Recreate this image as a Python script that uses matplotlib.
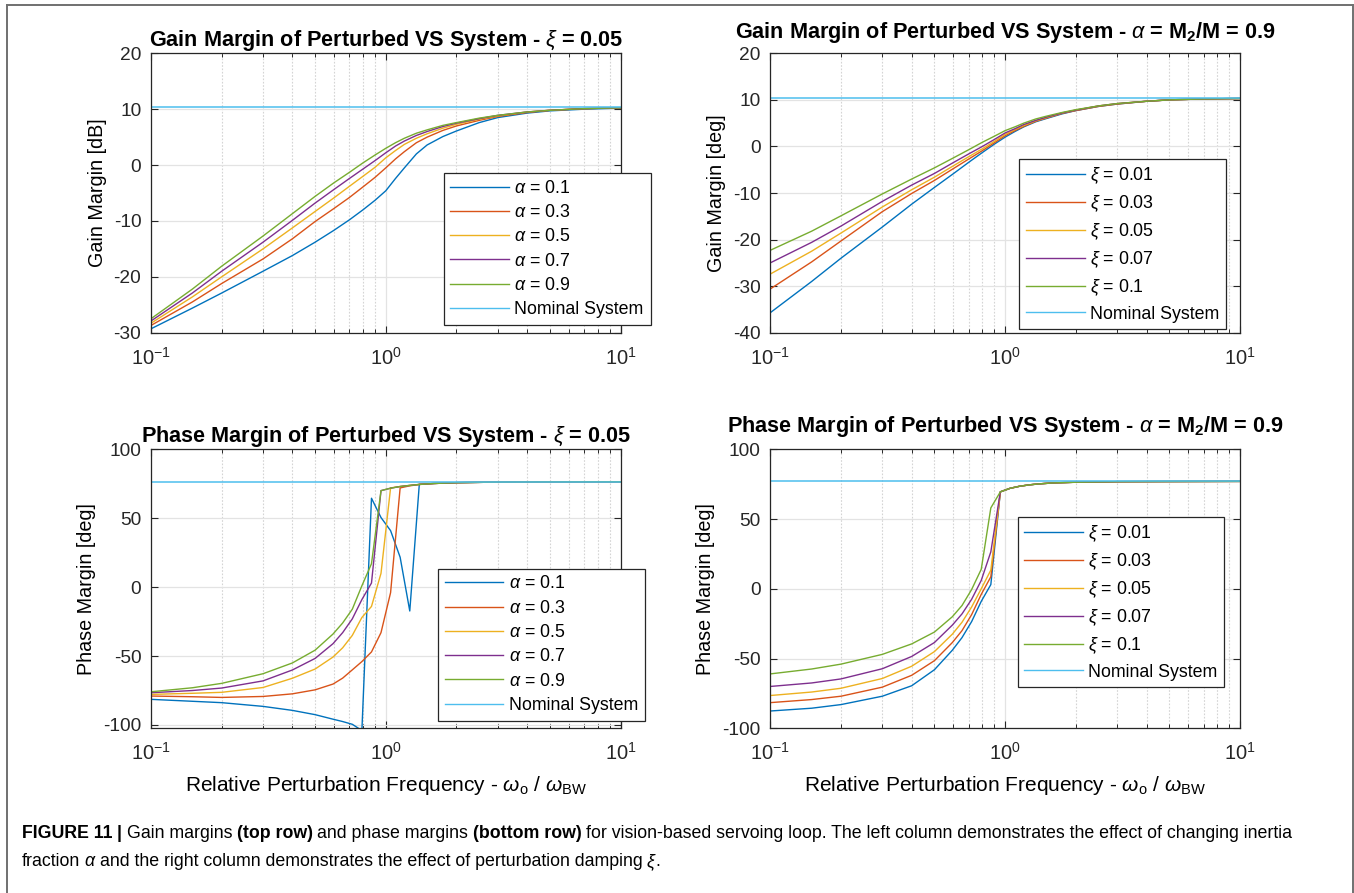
import matplotlib
matplotlib.use("Agg")
import matplotlib.pyplot as plt
from matplotlib.lines import Line2D

W, H = 1354, 893

# --- data ------------------------------------------------------------------
GM_FREQ = [0.1, 0.15, 0.2, 0.3, 0.4, 0.5, 0.6, 0.7, 0.8, 0.9, 1.0, 1.1, 1.2,
           1.35, 1.5, 1.75, 2, 2.5, 3, 4, 5, 7, 10]

# gain margin, xi = 0.05, varying alpha
GM_ALPHA_01 = [-29.3, -25.6, -22.9, -19.0, -16.2, -13.8, -11.7, -9.8, -8.0, -6.3, -4.6, -2.4, -0.5,
               2.0, 3.6, 5.1, 6.1, 7.6, 8.5, 9.3, 9.7, 10.0, 10.2]
GM_ALPHA_03 = [-28.7, -24.5, -21.2, -16.8, -13.2, -10.1, -7.8, -5.8, -3.9, -2.2, -0.5, 1.1, 2.4,
               4.0, 5.0, 6.2, 7.0, 8.0, 8.7, 9.4, 9.8, 10.1, 10.25]
GM_ALPHA_05 = [-28.3, -23.6, -20.0, -15.0, -11.25, -8.3, -5.9, -3.8, -2.0, -0.4, 1.3, 2.6, 3.7,
               4.8, 5.6, 6.6, 7.3, 8.2, 8.8, 9.5, 9.8, 10.1, 10.25]
GM_ALPHA_07 = [-27.9, -22.9, -19.0, -13.8, -9.9, -6.8, -4.4, -2.4, -0.7, 0.8, 2.2, 3.4, 4.3,
               5.3, 6.0, 6.9, 7.5, 8.3, 8.9, 9.5, 9.8, 10.1, 10.25]
GM_ALPHA_09 = [-27.5, -22.2, -18.1, -12.7, -8.7, -5.6, -3.2, -1.3, 0.4, 1.8, 3.0, 4.0, 4.8,
               5.7, 6.3, 7.1, 7.6, 8.4, 8.9, 9.5, 9.8, 10.1, 10.25]

# gain margin, alpha = 0.9, varying xi
GM_XI_001 = [-35.7, -29.0, -24.0, -17.3, -12.4, -8.8, -5.9, -3.4, -1.3, 0.5, 2.0, 3.2, 4.2,
             5.3, 6.0, 7.0, 7.7, 8.6, 9.1, 9.7, 10.0, 10.2, 10.3]
GM_XI_003 = [-30.6, -24.8, -20.3, -14.0, -10.1, -7.3, -4.8, -2.7, -0.9, 0.8, 2.3, 3.4, 4.3,
             5.4, 6.1, 7.1, 7.7, 8.6, 9.1, 9.7, 10.0, 10.2, 10.3]
GM_XI_005 = [-27.4, -22.5, -18.6, -13.0, -9.3, -6.6, -4.2, -2.2, -0.5, 1.1, 2.6, 3.6, 4.5,
             5.5, 6.2, 7.2, 7.8, 8.7, 9.2, 9.7, 10.0, 10.2, 10.3]
GM_XI_007 = [-25.0, -20.6, -17.1, -11.8, -8.3, -5.8, -3.5, -1.6, 0.0, 1.5, 2.9, 3.8, 4.7,
             5.6, 6.3, 7.2, 7.8, 8.7, 9.2, 9.7, 10.0, 10.2, 10.3]
GM_XI_010 = [-22.3, -18.2, -14.9, -10.2, -7.0, -4.6, -2.5, -0.7, 0.9, 2.2, 3.4, 4.2, 5.0,
             5.9, 6.5, 7.3, 7.9, 8.7, 9.2, 9.7, 10.0, 10.2, 10.3]

GM_NOMINAL = 10.4

PM_FREQ = [0.1, 0.15, 0.2, 0.3, 0.4, 0.5, 0.596, 0.655, 0.720, 0.791, 0.869, 0.954,
           1.048, 1.151, 1.265, 1.389, 1.6, 2, 3, 5, 10]

# phase margin, xi = 0.05, varying alpha
PM_ALPHA_01 = [-81.4, -82.8, -83.8, -86.5, -89.4, -92.5, -95.8, -97.5, -99.5, -104.0, 64.5, 50.5,
               41.0, 21.7, -17.3, 74.6, 75.2, 75.8, 76.2, 76.4, 76.5]
PM_ALPHA_03 = [-79.0, -79.5, -80.0, -79.3, -77.4, -74.5, -70.3, -66.0, -60.0, -54.0, -47.0, -33.0,
               -4.0, 72.0, 73.5, 74.5, 75.2, 75.8, 76.2, 76.4, 76.5]
PM_ALPHA_05 = [-77.8, -77.0, -76.3, -72.8, -66.1, -59.4, -50.7, -44.0, -35.0, -22.0, -14.0, 10.0,
               72.0, 73.0, 73.8, 74.5, 75.2, 75.8, 76.2, 76.4, 76.5]
PM_ALPHA_07 = [-76.6, -75.0, -73.2, -68.0, -60.1, -51.7, -41.0, -33.0, -23.0, -9.0, 3.0, 70.0,
               71.8, 73.0, 73.8, 74.5, 75.2, 75.8, 76.2, 76.4, 76.5]
PM_ALPHA_09 = [-75.9, -73.0, -69.8, -62.8, -55.0, -45.7, -34.0, -26.0, -16.0, 1.0, 17.0, 70.0,
               71.8, 73.0, 73.8, 74.5, 75.2, 75.8, 76.2, 76.4, 76.5]

# phase margin, alpha = 0.9, varying xi
PM_XI_001 = [-87.6, -85.6, -83.0, -77.0, -69.5, -58.0, -44.0, -35.0, -23.5, -9.0, 3.0, 69.5,
             72.0, 73.5, 74.5, 75.2, 75.9, 76.4, 76.8, 76.9, 77.0]
PM_XI_003 = [-81.6, -79.4, -77.0, -70.5, -62.0, -51.5, -38.5, -30.0, -18.5, -4.0, 8.6, 69.5,
             72.0, 73.5, 74.5, 75.2, 75.9, 76.4, 76.8, 76.9, 77.0]
PM_XI_005 = [-76.5, -74.0, -71.3, -64.3, -55.5, -45.0, -32.5, -24.0, -13.0, 0.0, 13.4, 69.5,
             72.0, 73.5, 74.5, 75.2, 75.9, 76.4, 76.8, 76.9, 77.0]
PM_XI_007 = [-70.0, -67.5, -64.6, -57.3, -48.5, -38.5, -26.0, -18.0, -7.5, 6.0, 26.5, 69.5,
             72.0, 73.5, 74.5, 75.2, 75.9, 76.4, 76.8, 76.9, 77.0]
PM_XI_010 = [-61.0, -57.5, -54.0, -47.0, -39.5, -31.0, -20.0, -12.0, -0.5, 14.0, 58.0, 69.5,
             72.0, 73.5, 74.5, 75.2, 75.9, 76.4, 76.8, 76.9, 77.0]

PM_NOMINAL_ALPHA = 76.5
PM_NOMINAL_XI = 77.1

ALPHA_LABELS = [r"$\alpha$ = 0.1", r"$\alpha$ = 0.3", r"$\alpha$ = 0.5", r"$\alpha$ = 0.7", r"$\alpha$ = 0.9"]
XI_LABELS = [r"$\xi$ = 0.01", r"$\xi$ = 0.03", r"$\xi$ = 0.05", r"$\xi$ = 0.07", r"$\xi$ = 0.1"]

# MATLAB default colour order
COLORS = ["#0072BD", "#D95319", "#EDB120", "#7E2F8E", "#77AC30", "#4DBEEE"]
AXIS_COLOR = "#262626"
FONT = "Liberation Sans"
CAPTION_FONTS = ["Liberation Sans Narrow", "Liberation Sans"]


def configure_style() -> None:
    matplotlib.rcParams.update(
        {
            "font.family": FONT,
            "font.size": 13,
            "mathtext.fontset": "custom",
            "mathtext.rm": "Liberation Sans",
            "mathtext.it": "Liberation Sans:italic",
            "mathtext.bf": "Liberation Sans:bold",
            "axes.unicode_minus": False,
            "axes.linewidth": 0.9,
            "axes.edgecolor": AXIS_COLOR,
        }
    )


def px_rect(left, top, right, bottom):
    return [left / W, 1 - bottom / H, (right - left) / W, (bottom - top) / H]


def style_axes(ax, ylim, yticks, ylabel, title, title_pad):
    ax.set_xscale("log")
    ax.set_xlim(0.1, 10)
    ax.set_ylim(*ylim)
    ax.set_yticks(yticks)
    ax.tick_params(which="both", direction="in", top=True, right=True, colors=AXIS_COLOR,
                   labelcolor="#262626")
    ax.tick_params(axis="y", labelsize=13.8, pad=7)
    ax.tick_params(axis="x", labelsize=14.5, pad=10)
    ax.tick_params(which="major", length=5, width=0.8)
    ax.tick_params(which="minor", length=2.8, width=0.7)
    ax.grid(which="major", color="#e3e3e3", lw=0.9, ls="-")
    ax.grid(which="minor", axis="x", color="#d4d4d4", lw=0.8, ls=(0, (1.5, 1.5)))
    ax.set_axisbelow(True)
    ax.set_ylabel(ylabel, fontsize=14.2, labelpad=5)
    ax.set_title(title, fontsize=15.6, fontweight="bold", pad=title_pad)


def draw_panel(ax, freq, series, labels, nominal, legend_corner):
    for values, color in zip(series, COLORS):
        ax.plot(freq, values, color=color, lw=1.0)
    ax.axhline(nominal, color=COLORS[5], lw=1.1)
    handles = [Line2D([], [], color=c, lw=1.0) for c in COLORS]
    leg = ax.legend(handles, labels + ["Nominal System"], loc="lower right",
                    bbox_to_anchor=(legend_corner[0] / W, 1 - legend_corner[1] / H),
                    bbox_transform=ax.figure.transFigure, borderaxespad=0,
                    fontsize=12.8, handlelength=3.3, handletextpad=0.3,
                    labelspacing=0.41, borderpad=0.38, fancybox=False,
                    framealpha=1, edgecolor=AXIS_COLOR)
    leg.get_frame().set_linewidth(0.9)


def draw_caption(fig):
    renderer = fig.canvas.get_renderer()
    size = 12.75
    space = size * 0.26 * 100 / 72
    lines = [
        (838, [("FIGURE 11", "bold", "normal", True), ("|", "bold", "normal", True),
               ("Gain margins", "normal", "normal", True), ("(top row)", "bold", "normal", True),
               ("and phase margins", "normal", "normal", True), ("(bottom row)", "bold", "normal", True),
               ("for vision-based servoing loop. The left column demonstrates the effect of changing inertia",
                "normal", "normal", False)]),
        (866, [("fraction", "normal", "normal", True), ("α", "normal", "italic", True),
               ("and the right column demonstrates the effect of perturbation damping", "normal", "normal", True),
               ("ξ", "normal", "italic", False), (".", "normal", "normal", False)]),
    ]
    for y, pieces in lines:
        x = 22.0
        for text, weight, style, gap in pieces:
            t = fig.text(x / W, 1 - y / H, text, fontsize=size, fontweight=weight, fontstyle=style,
                         family=CAPTION_FONTS, ha="left", va="baseline", color="black")
            x += t.get_window_extent(renderer).width + (space if gap else 1.0)


def draw_frame(fig):
    kw = dict(color="#707070", lw=1.4, transform=fig.transFigure)
    fig.add_artist(Line2D([7 / W, 7 / W], [0, 1 - 5 / H], **kw))
    fig.add_artist(Line2D([7 / W, 1352.5 / W], [1 - 5 / H, 1 - 5 / H], **kw))
    fig.add_artist(Line2D([1352.5 / W, 1352.5 / W], [0, 1 - 5 / H], **kw))


def main() -> None:
    configure_style()
    fig = plt.figure(figsize=(W / 100, H / 100), dpi=100)
    fig.patch.set_facecolor("white")

    ax_tl = fig.add_axes(px_rect(151, 53.3, 620.6, 332.7))
    ax_tr = fig.add_axes(px_rect(770.3, 53.3, 1240, 332.7))
    ax_bl = fig.add_axes(px_rect(151, 449.3, 620.6, 728.3))
    ax_br = fig.add_axes(px_rect(770.3, 449.3, 1240, 728.3))

    draw_panel(ax_tl, GM_FREQ, [GM_ALPHA_01, GM_ALPHA_03, GM_ALPHA_05, GM_ALPHA_07, GM_ALPHA_09],
               ALPHA_LABELS, GM_NOMINAL, (650.5, 325))
    style_axes(ax_tl, (-30, 20), [-30, -20, -10, 0, 10, 20], "Gain Margin [dB]",
               r"Gain Margin of Perturbed VS System - $\xi$ = 0.05", 4.7)

    draw_panel(ax_tr, GM_FREQ, [GM_XI_001, GM_XI_003, GM_XI_005, GM_XI_007, GM_XI_010],
               XI_LABELS, GM_NOMINAL, (1226, 329.3))
    style_axes(ax_tr, (-40, 20), [-40, -30, -20, -10, 0, 10, 20], "Gain Margin [deg]",
               r"Gain Margin of Perturbed VS System - $\alpha$ = M$_\mathbf{2}$/M = 0.9", 10.8)

    draw_panel(ax_bl, PM_FREQ, [PM_ALPHA_01, PM_ALPHA_03, PM_ALPHA_05, PM_ALPHA_07, PM_ALPHA_09],
               ALPHA_LABELS, PM_NOMINAL_ALPHA, (644.8, 720.7))
    style_axes(ax_bl, (-102.4, 100), [-100, -50, 0, 50, 100], "Phase Margin [deg]",
               r"Phase Margin of Perturbed VS System - $\xi$ = 0.05", 4.7)

    draw_panel(ax_br, PM_FREQ, [PM_XI_001, PM_XI_003, PM_XI_005, PM_XI_007, PM_XI_010],
               XI_LABELS, PM_NOMINAL_XI, (1224.3, 687.3))
    style_axes(ax_br, (-100, 100), [-100, -50, 0, 50, 100], "Phase Margin [deg]",
               r"Phase Margin of Perturbed VS System - $\alpha$ = M$_\mathbf{2}$/M = 0.9", 12.2)

    for ax in (ax_bl, ax_br):
        ax.set_xlabel(r"Relative Perturbation Frequency - $\omega_\mathrm{o}$ / $\omega_\mathrm{BW}$",
                      fontsize=15, labelpad=7)

    draw_frame(fig)
    draw_caption(fig)
    fig.savefig("out.png", dpi=100, facecolor="white")


if __name__ == "__main__":
    main()
